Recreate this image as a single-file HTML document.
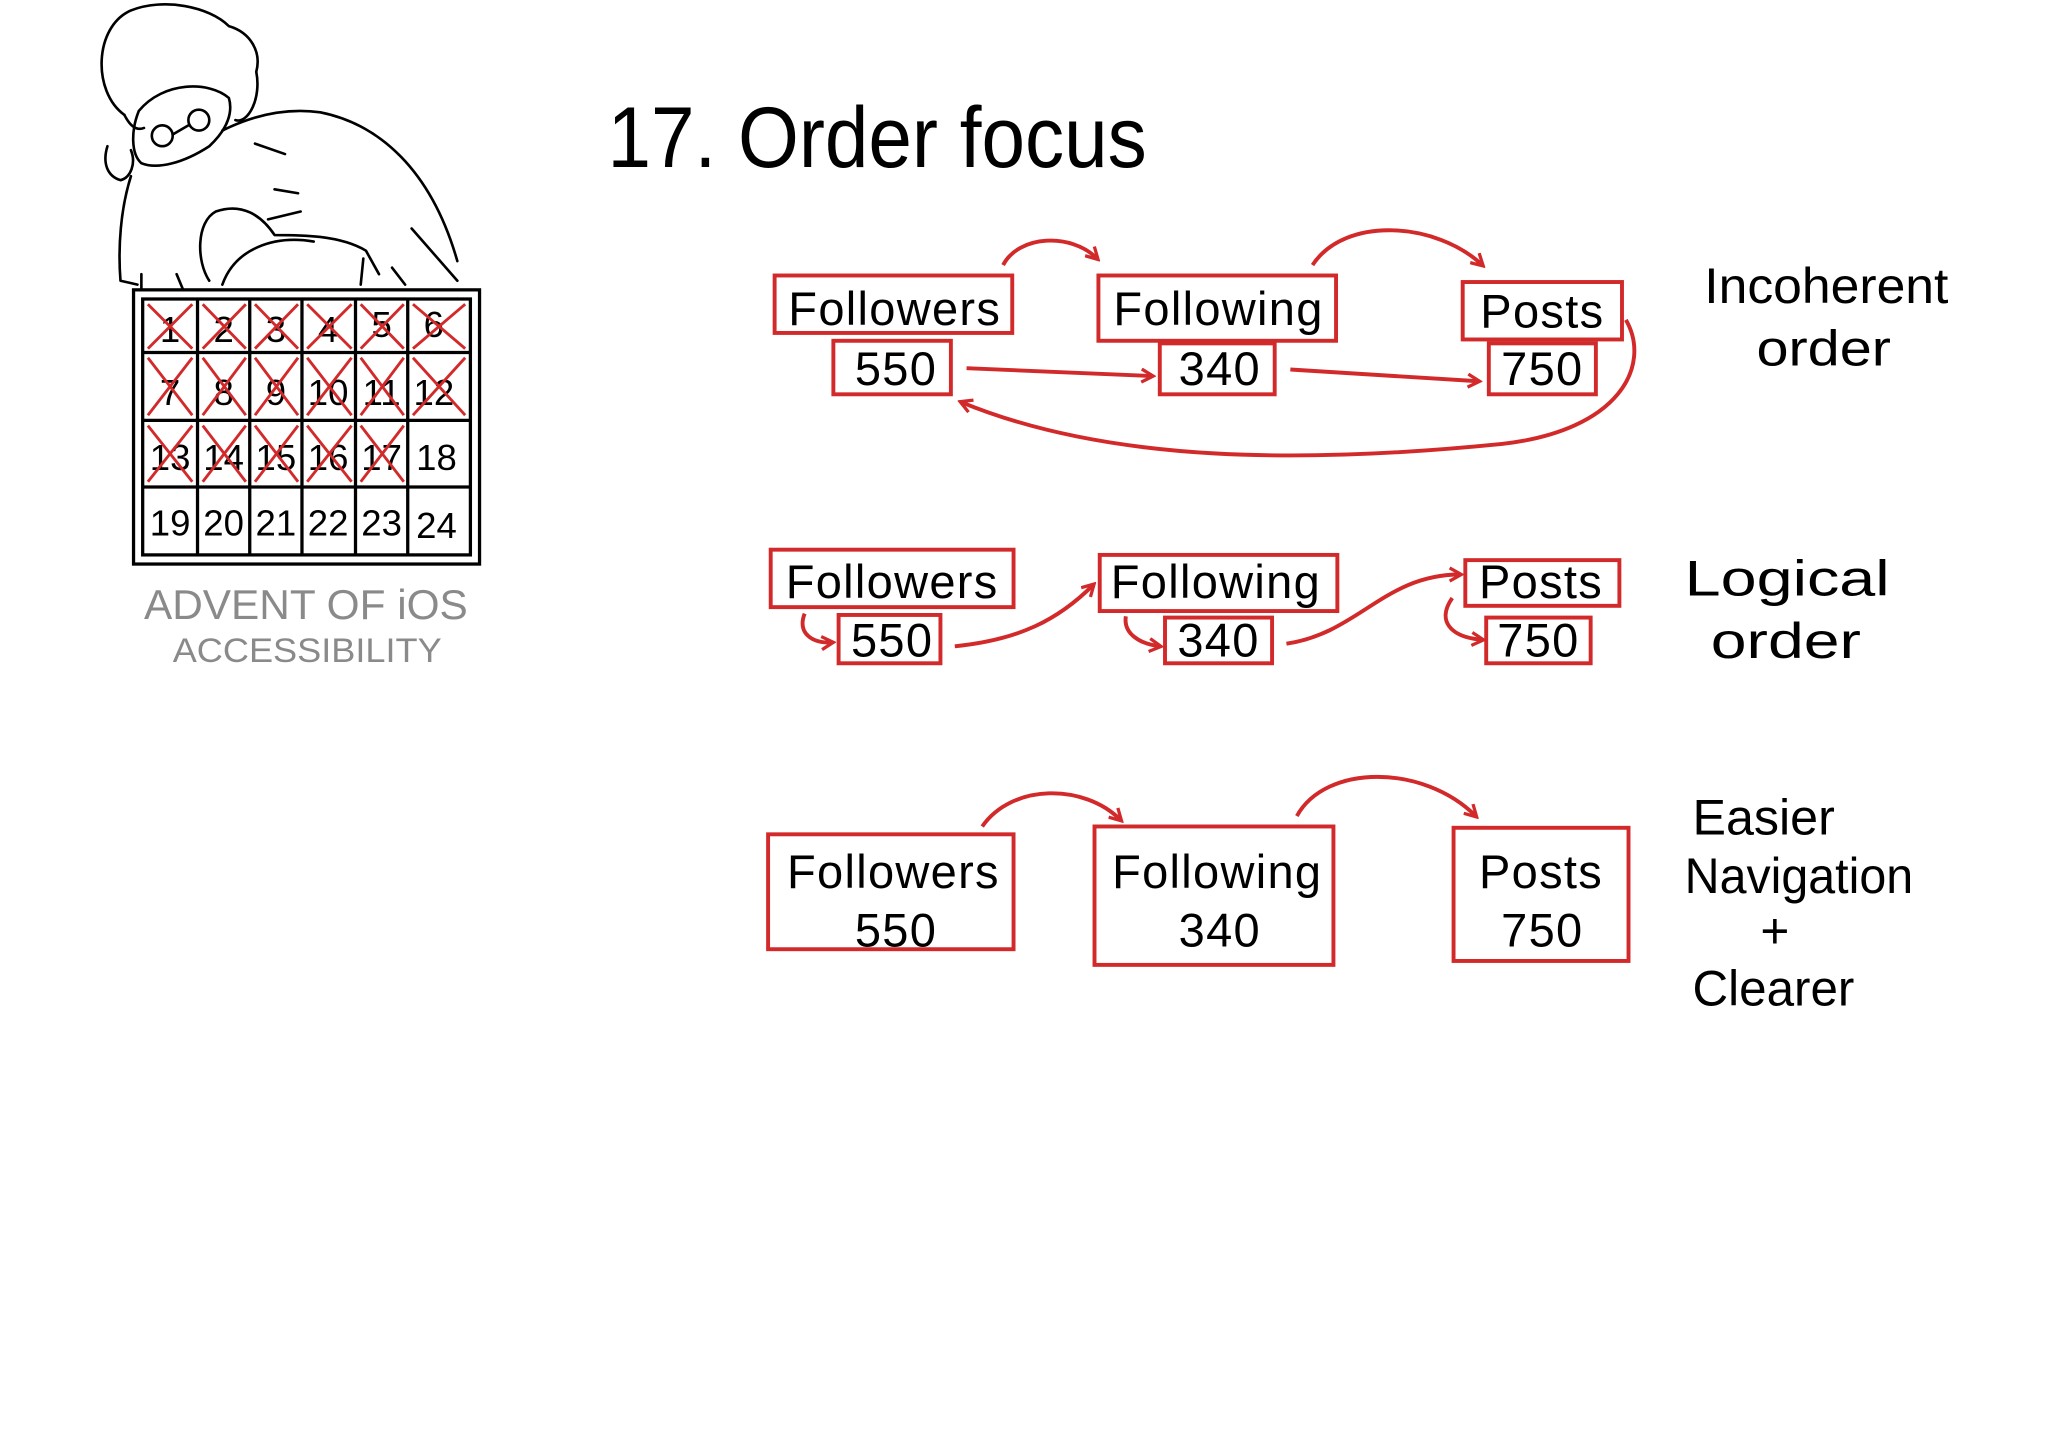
<!DOCTYPE html>
<html><head><meta charset="utf-8"><style>
html,body{margin:0;padding:0;background:#fff;}
svg{display:block;}
text{font-family:"Liberation Sans Narrow","Liberation Sans",sans-serif;}
</style></head><body>
<svg width="2048" height="1431" viewBox="0 0 1568 1096" xmlns="http://www.w3.org/2000/svg">
<rect width="1568" height="1096" fill="#fff"/>
<g fill="none" stroke="#000" stroke-width="2" stroke-linecap="round" stroke-linejoin="round">
<path d="M95,88 C70,70 72,20 100,8 C125,-2 160,5 175,20 C192,25 200,40 196,55 C200,75 190,95 180,92"/>
<path d="M95,88 C100,98 105,100 110,98"/>
<path d="M82,112 C78,125 82,135 92,138 C100,136 104,125 100,115"/>
<path d="M106,85 C100,100 100,118 108,125 C120,130 140,125 160,112 C175,98 178,85 175,75 C160,62 125,62 106,85"/>
<circle cx="124" cy="104" r="8"/><circle cx="152" cy="92" r="8"/>
<path d="M132,103 L144,96"/>
<path d="M100,135 C92,160 90,190 92,215 L105,218"/>
<path d="M170,100 C190,90 215,82 245,86 C290,95 330,130 350,200"/>
<path d="M195,110 L218,118 M210,145 L228,148 M205,168 L230,162 M315,175 L350,215"/>
<path d="M165,162 C150,170 150,200 160,215 M165,162 C185,155 200,165 210,180 C230,180 260,180 280,192 L290,210"/>
<path d="M170,218 C180,190 210,180 240,185"/>
<path d="M108,210 L108,222 M135,210 L140,222"/>
<path d="M278,198 L276,218 M300,205 L310,218"/>
</g>
<g fill="none" stroke="#000" stroke-width="2.5">
<rect x="102" y="222" width="265" height="210"/>
<rect x="109" y="229" width="251" height="196"/>
<path d="M151,229 V425 M191,229 V425 M231,229 V425 M272,229 V425 M312,229 V425"/>
<path d="M109,270 H360 M109,322 H360 M109,373 H360"/>
</g>
<g font-size="28" fill="#000" text-anchor="middle">
<text x="130" y="262">1</text><text x="171" y="262">2</text><text x="211" y="262">3</text><text x="251" y="262">4</text><text x="292" y="258">5</text><text x="332" y="258">6</text>
<text x="130" y="310">7</text><text x="171" y="310">8</text><text x="211" y="310">9</text><text x="251" y="310">10</text><text x="292" y="310">11</text><text x="332" y="310">12</text>
<text x="130" y="360">13</text><text x="171" y="360">14</text><text x="211" y="360">15</text><text x="251" y="360">16</text><text x="292" y="360">17</text><text x="334" y="360">18</text>
<text x="130" y="410">19</text><text x="171" y="410">20</text><text x="211" y="410">21</text><text x="251" y="410">22</text><text x="292" y="410">23</text><text x="334" y="412">24</text>
</g>
<g stroke="#d22a2a" stroke-width="2.2" fill="none">
<path d="M113,233 L147,267 M147,233 L113,267 M155,233 L188,267 M188,233 L155,267 M195,233 L228,267 M228,233 L195,267 M235,233 L269,267 M269,233 L235,267 M276,233 L309,267 M309,233 L276,267 M316,233 L356,267 M356,233 L316,267"/>
<path d="M113,274 L147,318 M147,274 L113,318 M155,274 L188,318 M188,274 L155,318 M195,274 L228,318 M228,274 L195,318 M235,274 L269,318 M269,274 L235,318 M276,274 L309,318 M309,274 L276,318 M316,274 L356,318 M356,274 L316,318"/>
<path d="M113,326 L147,369 M147,326 L113,369 M155,326 L188,369 M188,326 L155,369 M195,326 L228,369 M228,326 L195,369 M235,326 L269,369 M269,326 L235,369 M276,326 L309,369 M309,326 L276,369"/>
</g>
<text x="110" y="474" font-size="32" fill="#8a8a8a" textLength="248" lengthAdjust="spacingAndGlyphs">ADVENT OF iOS</text>
<text x="132" y="507" font-size="26" fill="#8a8a8a" textLength="206" lengthAdjust="spacingAndGlyphs">ACCESSIBILITY</text>
<text x="465" y="128" font-size="66" fill="#000" textLength="413" lengthAdjust="spacingAndGlyphs">17. Order focus</text>
<defs><marker id="ah" markerWidth="12" markerHeight="12" refX="9" refY="6" orient="auto" markerUnits="userSpaceOnUse"><path d="M1,1 L10,6 L1,11" fill="none" stroke="#d22a2a" stroke-width="2.5"/></marker></defs>
<g fill="none" stroke="#d22a2a" stroke-width="3">
<rect x="593" y="211" width="182" height="44"/><rect x="638" y="261" width="90" height="41"/>
<rect x="841" y="211" width="182" height="50"/><rect x="888" y="263" width="88" height="39"/>
<rect x="1120" y="216" width="122" height="44"/><rect x="1140" y="263" width="82" height="39"/>
<path d="M740,282 L882,288" marker-end="url(#ah)"/>
<path d="M988,283 L1132,292" marker-end="url(#ah)"/>
<path d="M768,203 C780,180 820,178 840,198" marker-end="url(#ah)"/>
<path d="M1005,203 C1030,165 1100,170 1135,203" marker-end="url(#ah)"/>
<path d="M1245,245 C1265,280 1240,330 1150,340 C1000,355 850,355 736,308" marker-end="url(#ah)"/>
<rect x="590" y="421" width="186" height="44"/><rect x="642" y="471" width="78" height="37"/>
<rect x="842" y="425" width="182" height="43"/><rect x="892" y="473" width="82" height="35"/>
<rect x="1122" y="429" width="118" height="35"/><rect x="1138" y="473" width="80" height="35"/>
<path d="M616,470 C610,485 622,493 637,492" marker-end="url(#ah)"/>
<path d="M731,495 C780,490 810,475 837,448" marker-end="url(#ah)"/>
<path d="M862,472 C860,485 872,493 888,495" marker-end="url(#ah)"/>
<path d="M985,493 C1040,485 1060,440 1118,440" marker-end="url(#ah)"/>
<path d="M1112,458 C1100,475 1110,488 1135,490" marker-end="url(#ah)"/>
<rect x="588" y="639" width="188" height="88"/>
<rect x="838" y="633" width="183" height="106"/>
<rect x="1113" y="634" width="134" height="102"/>
<path d="M752,633 C775,600 830,600 858,628" marker-end="url(#ah)"/>
<path d="M993,625 C1015,585 1090,585 1130,625" marker-end="url(#ah)"/>
</g>
<g font-size="36" fill="#000" text-anchor="middle" letter-spacing="1">
<text x="685" y="249">Followers</text><text x="686" y="295">550</text>
<text x="933" y="249">Following</text><text x="934" y="295">340</text>
<text x="1181" y="251">Posts</text><text x="1181" y="295">750</text>
<text x="683" y="458">Followers</text><text x="683" y="503">550</text>
<text x="931" y="458">Following</text><text x="933" y="503">340</text>
<text x="1180" y="458">Posts</text><text x="1178" y="503">750</text>
<text x="684" y="680">Followers</text><text x="686" y="725">550</text>
<text x="932" y="680">Following</text><text x="934" y="725">340</text>
<text x="1180" y="680">Posts</text><text x="1181" y="725">750</text>
</g>
<g font-size="38" fill="#000" lengthAdjust="spacingAndGlyphs">
<text x="1305" y="232" textLength="187" lengthAdjust="spacingAndGlyphs">Incoherent</text>
<text x="1345" y="280" textLength="103" lengthAdjust="spacingAndGlyphs">order</text>
<text x="1290" y="456" textLength="157" lengthAdjust="spacingAndGlyphs">Logical</text>
<text x="1310" y="504" textLength="115" lengthAdjust="spacingAndGlyphs">order</text>
<text x="1296" y="639" textLength="109" lengthAdjust="spacingAndGlyphs">Easier</text>
<text x="1290" y="684" textLength="175" lengthAdjust="spacingAndGlyphs">Navigation</text>
<text x="1348" y="726">+</text>
<text x="1296" y="770" textLength="124" lengthAdjust="spacingAndGlyphs">Clearer</text>
</g>
</svg>
</body></html>
